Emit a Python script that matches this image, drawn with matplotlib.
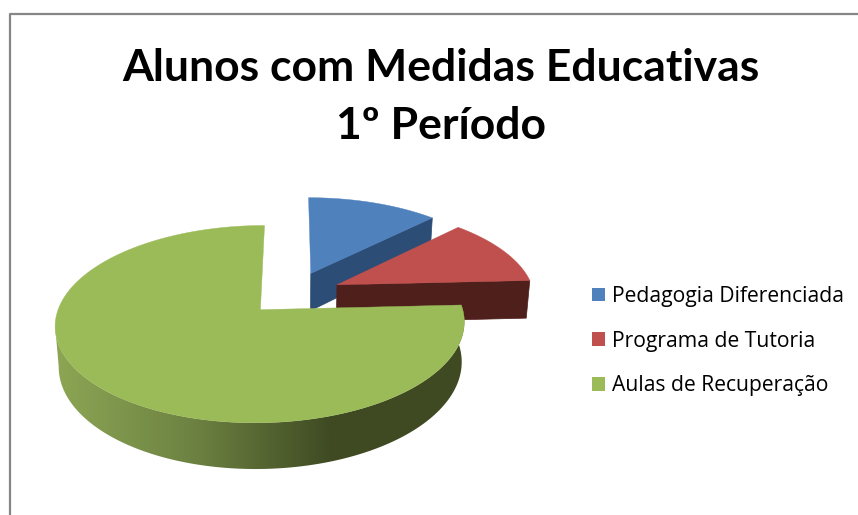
import numpy as np
import matplotlib.pyplot as plt
from matplotlib.patches import Patch, Polygon
from matplotlib.colors import LinearSegmentedColormap

# valores (estimados)
categorias = ['Pedagogia Diferenciada', 'Programa de Tutoria', 'Aulas de Recuperação']
alunos = [16, 15, 97]
titulo = 'Alunos com Medidas Educativas\n1º Período'

cores = ['#4f81bd', '#c0504d', '#9bbb59']
cores_lado = ['#2c4d75', '#4f1f1c', '#3f4a22']

plt.rcParams['font.family'] = ['Lato', 'DejaVu Sans']

# projecao do disco para pixeis
cx, cy = 292.5, 294
a, b, k = 197.5, 92, 0.143
explode = [0.25, 0.25, 0.23]
prof = 38.5


def proj(u, v, base=False):
    w = 1 + k * v
    x = a * u / w
    y = -b * v / w
    if base:
        return cx + x * 0.985, cy + y + prof / w
    return cx + x, cy + y


def fatia(t0, t1, e):
    meio = (t0 + t1) / 2
    ou, ov = e * np.sin(meio), e * np.cos(meio)
    t = np.linspace(t0, t1, 300)
    return ou, ov, ou + np.sin(t), ov + np.cos(t)


fig = plt.figure(figsize=(8.58, 5.15), dpi=100)
ax = fig.add_axes([0, 0, 1, 1])
ax.axis('off')

# moldura
ax.plot([9.5, 9.5, 858], [515, 13.5, 13.5], color='#868686', lw=1.6)

angulos = np.r_[0, np.cumsum(alunos)] / sum(alunos) * 2 * np.pi

for i in range(len(alunos)):
    ou, ov, us, vs = fatia(angulos[i], angulos[i + 1], explode[i])
    xt, yt = proj(us, vs)
    x0, y0 = proj(ou, ov)
    if i < 2:
        # parede radial do fim da fatia
        x1, y1 = xt[-1], yt[-1]
        x2, y2 = proj(us[-1], vs[-1], base=True)
        x3, y3 = proj(ou, ov, base=True)
        ax.fill([x0, x1, x2, x3], [y0, y1, y2, y3], color=cores_lado[i], lw=0.5, zorder=2 + i)
    else:
        # lateral exterior com gradiente, do fim direito ate ao ponto mais a esquerda
        m = np.argmin(xt)
        xb, yb = proj(us, vs, base=True)
        pts = np.c_[np.r_[xt[:m + 1], xb[:m + 1][::-1]], np.r_[yt[:m + 1], yb[:m + 1][::-1]]]
        lado = Polygon(pts, closed=True, transform=ax.transData, facecolor='none', edgecolor='none')
        ax.add_patch(lado)
        cmap = LinearSegmentedColormap.from_list('lado', ['#8ca654', '#6d8242', cores_lado[2], cores_lado[2]],
                                                 N=256)
        img = ax.imshow(np.linspace(0, 1, 256)[None, :], cmap=cmap, extent=[55, 470, 480, 300],
                        aspect='auto', zorder=2 + i, interpolation='bilinear')
        img.set_clip_path(lado)
    ax.fill(np.r_[x0, xt], np.r_[y0, yt], color=cores[i], lw=0.3, zorder=3 + i)

ax.set_xlim(0, 858)
ax.set_ylim(515, 0)

ax.text(441, 97, titulo, ha='center', va='center', fontsize=32, fontweight='bold',
        color='black', linespacing=1.56)

handles = [Patch(facecolor=c, edgecolor='none') for c in cores]
ax.legend(handles, categorias, loc='center left', bbox_to_anchor=(592, 341), bbox_transform=ax.transData,
          frameon=False, prop={'family': 'Open Sans', 'size': 15.2}, handlelength=0.63, handleheight=0.63,
          handletextpad=0.33, labelspacing=1.12, borderpad=0, borderaxespad=0)

fig.savefig('out.png', dpi=100)
